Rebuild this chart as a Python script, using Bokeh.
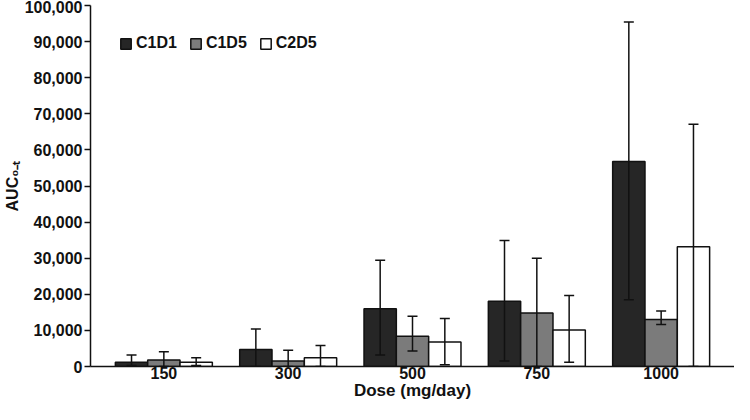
from bokeh.plotting import figure
from bokeh.models import (ColumnDataSource, FactorRange, Range1d, Whisker, TeeHead,
                          NumeralTickFormatter, SingleIntervalTicker, Legend, LegendItem)
from bokeh.transform import dodge
from bokeh.embed import file_html
from bokeh.resources import INLINE

doses = ["150", "300", "500", "750", "1000"]
series = ["C1D1", "C1D5", "C2D5"]

c1d1 = [1200, 4700, 16000, 18100, 56800]
c1d1_lo = [300, 0, 3200, 1500, 18500]
c1d1_hi = [3200, 10400, 29400, 34900, 95400]

c1d5 = [1800, 1500, 8400, 14800, 13000]
c1d5_lo = [0, 0, 4300, 0, 11600]
c1d5_hi = [4100, 4500, 13900, 30000, 15400]

c2d5 = [1200, 2400, 6800, 10100, 33200]
c2d5_lo = [300, 0, 500, 1200, 0]
c2d5_hi = [2400, 5800, 13300, 19700, 67100]

x_title = "Dose (mg/day)"
y_title = "AUC\u2080\u208b\u209c"

colors = ["#262626", "#7b7b7b", "#ffffff"]
offsets = [-0.26, 0.0, 0.26]

src = ColumnDataSource(dict(
    dose=doses,
    c1d1=c1d1, c1d1_lo=c1d1_lo, c1d1_hi=c1d1_hi,
    c1d5=c1d5, c1d5_lo=c1d5_lo, c1d5_hi=c1d5_hi,
    c2d5=c2d5, c2d5_lo=c2d5_lo, c2d5_hi=c2d5_hi,
))

FONT = "Liberation Sans"
INK = "#111111"

p = figure(width=734, height=404, output_backend="svg", toolbar_location=None,
           x_range=FactorRange(factors=doses, range_padding=0.09, range_padding_units="absolute"),
           y_range=Range1d(0, 100000),
           min_border_left=79, min_border_right=0, min_border_top=5, min_border_bottom=38)

p.outline_line_color = None
p.xgrid.grid_line_color = None
p.ygrid.grid_line_color = None
p.background_fill_color = "white"
p.border_fill_color = "white"

keys = ["c1d1", "c1d5", "c2d5"]
renderers = []
for key, name, col, off in zip(keys, series, colors, offsets):
    r = p.vbar(x=dodge("dose", off, range=p.x_range), top=key, width=0.26, source=src,
               fill_color=col, line_color=INK, line_width=1.5)
    renderers.append((name, r))

for key, off in zip(keys, offsets):
    w = Whisker(base=dodge("dose", off, range=p.x_range), lower=key + "_lo", upper=key + "_hi",
                source=src, line_color=INK, line_width=1.5, level="annotation",
                upper_head=TeeHead(size=10, line_color=INK, line_width=1.5),
                lower_head=TeeHead(size=10, line_color=INK, line_width=1.5))
    p.add_layout(w)

legend = Legend(items=[LegendItem(label=n, renderers=[r]) for n, r in renderers],
                orientation="horizontal", location="top_left",
                glyph_width=13, glyph_height=13, label_height=13,
                label_standoff=4, spacing=12, padding=0, margin=29,
                border_line_color=None, background_fill_alpha=0,
                label_text_font=FONT, label_text_font_style="bold",
                label_text_font_size="16px", label_text_color=INK)
p.add_layout(legend)

# y axis
p.yaxis.ticker = SingleIntervalTicker(interval=10000)
p.yaxis.formatter = NumeralTickFormatter(format="0,0")
p.yaxis.axis_label = y_title
p.yaxis.axis_label_text_font = FONT
p.yaxis.axis_label_text_font_style = "bold"
p.yaxis.axis_label_text_font_size = "16px"
p.yaxis.axis_label_text_color = INK
p.yaxis.axis_label_standoff = 1
p.yaxis.major_label_text_font = FONT
p.yaxis.major_label_text_font_style = "bold"
p.yaxis.major_label_text_font_size = "16px"
p.yaxis.major_label_text_color = INK
p.yaxis.major_tick_in = 0
p.yaxis.major_tick_out = 6
p.yaxis.minor_tick_line_color = None
p.yaxis.axis_line_width = 1.5
p.yaxis.axis_line_color = INK
p.yaxis.major_tick_line_color = INK
p.yaxis.major_tick_line_width = 1.5
p.yaxis.major_label_standoff = 2

# x axis
p.xaxis.axis_label = x_title
p.xaxis.axis_label_text_font = FONT
p.xaxis.axis_label_text_font_style = "bold"
p.xaxis.axis_label_text_font_size = "17px"
p.xaxis.axis_label_text_color = INK
p.xaxis.axis_label_standoff = -1
p.xaxis.major_label_text_font = FONT
p.xaxis.major_label_text_font_style = "bold"
p.xaxis.major_label_text_font_size = "16px"
p.xaxis.major_label_text_color = INK
p.xaxis.major_tick_line_color = None
p.xaxis.major_tick_in = 0
p.xaxis.major_tick_out = 0
p.xaxis.minor_tick_line_color = None
p.xaxis.axis_line_width = 1.5
p.xaxis.axis_line_color = INK
p.xaxis.major_label_standoff = 0

open("out.html", "w").write(file_html(p, INLINE))
